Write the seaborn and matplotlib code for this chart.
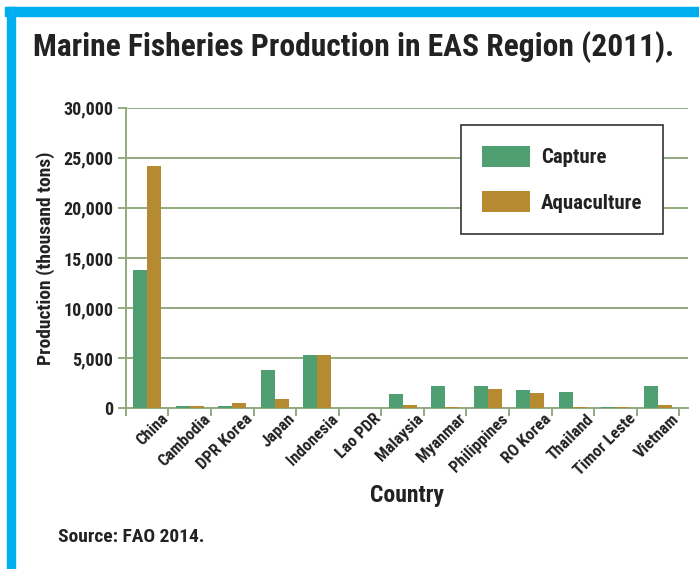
import matplotlib
matplotlib.use("Agg")
import matplotlib.pyplot as plt
import matplotlib.transforms as mtrans
import seaborn as sns
import pandas as pd
from matplotlib import font_manager as fm
from matplotlib.patches import Rectangle, Patch
from matplotlib.ticker import FuncFormatter, FixedLocator

countries = ["China", "Cambodia", "DPR Korea", "Japan", "Indonesia", "Lao PDR",
             "Malaysia", "Myanmar", "Philippines", "RO Korea", "Thailand",
             "Timor Leste", "Vietnam"]
capture = [13850, 200, 200, 3850, 5350, 0, 1380, 2250, 2250, 1820, 1650, 130, 2250]
aquaculture = [24150, 200, 500, 900, 5350, 0, 330, 150, 1950, 1520, 150, 130, 330]
series = ["Capture", "Aquaculture"]
colors = ["#4f9f73", "#b58a30"]
yticks = [0, 5000, 10000, 15000, 20000, 25000, 30000]

sns.set_theme(style="white")

available = {f.name for f in fm.fontManager.ttflist}
prefs = ["Nimbus Sans Narrow", "Liberation Sans Narrow", "Arial Narrow",
         "Roboto Condensed", "Archivo Narrow", "PT Sans Narrow",
         "Pragati Narrow", "Asap Condensed", "Barlow Semi Condensed"]
chosen = next((p for p in prefs if p in available), "DejaVu Sans")
FONT = [chosen, "DejaVu Sans"]
plt.rcParams["font.family"] = FONT
plt.rcParams["font.weight"] = "bold"

df = pd.DataFrame({
    "Country": countries * 2,
    "Production": capture + aquaculture,
    "Type": [series[0]] * len(countries) + [series[1]] * len(countries),
})

fig = plt.figure(figsize=(6.99, 5.69), dpi=100)
ax = fig.add_axes([0.180, 0.2824, 0.804, 0.5283])

sns.barplot(data=df, x="Country", y="Production", hue="Type", order=countries,
            hue_order=series, palette=colors, saturation=1, width=0.66,
            linewidth=0, ax=ax, legend=False, errorbar=None)

grid_c = "#93a97e"
ax.set_ylim(0, 30000)
ax.set_xlim(-0.5, 12.7)
ax.yaxis.set_major_locator(FixedLocator(yticks))
ax.yaxis.set_major_formatter(FuncFormatter(lambda v, p: f"{int(v):,}"))
ax.grid(axis="y", color=grid_c, linewidth=1.4)
ax.set_axisbelow(True)
for s in ["top", "right"]:
    ax.spines[s].set_visible(False)
for s in ["left", "bottom"]:
    ax.spines[s].set_color(grid_c)
    ax.spines[s].set_linewidth(1.4)
    ax.spines[s].set_zorder(0.5)

ax.tick_params(axis="y", which="major", length=6, width=1.4, color=grid_c,
               left=True, labelsize=13, pad=3, labelcolor="#222222")
ax.set_xticks(range(len(countries)))
ax.set_xticks([i - 0.5 for i in range(len(countries) + 1)], minor=True)
ax.tick_params(axis="x", which="major", length=0, labelsize=12, pad=2,
               labelcolor="#222222")
ax.tick_params(axis="x", which="minor", length=6, width=1.4, color=grid_c,
               bottom=True)
ax.set_xticklabels(countries, rotation=45, ha="right", rotation_mode="anchor",
                   fontweight="bold")
shift = mtrans.ScaledTranslation(13 / 100, 0, fig.dpi_scale_trans)
for lab in ax.get_xticklabels():
    lab.set_transform(lab.get_transform() + shift)
for lab in ax.get_yticklabels():
    lab.set_fontweight("bold")

ax.set_xlabel("Country", fontsize=17, fontweight="bold", color="#222222", labelpad=4)
ax.set_ylabel("Production (thousand tons)", fontsize=14, fontweight="bold",
              color="#222222", labelpad=6)

handles = [Patch(facecolor=c, edgecolor="none") for c in colors]
leg = ax.legend(handles, series, loc="upper left", bbox_to_anchor=(0.596, 0.942),
                frameon=True, fancybox=False, framealpha=1, edgecolor="#333333",
                prop={"family": FONT, "weight": "bold", "size": 15},
                handlelength=2.3, handleheight=1.15, handletextpad=0.55,
                labelspacing=1.15, borderpad=1.0, borderaxespad=0)
leg.get_frame().set_linewidth(1.2)
for t in leg.get_texts():
    t.set_color("#222222")

title = fig.text(33 / 699, 1 - 47 / 569, "Marine Fisheries Production in EAS Region (2011).",
                 fontsize=27, fontweight="bold", color="#222222", va="center", ha="left")
renderer = fig.canvas.get_renderer()
w = title.get_window_extent(renderer).width
target = 642
title.set_fontsize(27 * target / w)

fig.text(58 / 699, 1 - 537 / 569, "Source: FAO 2014.", fontsize=14, fontweight="bold",
         color="#222222", va="center", ha="left")

blue = "#00aeef"
fig.patches.append(Rectangle((5 / 699, 1 - 16 / 569), 1, 9 / 569,
                             transform=fig.transFigure, color=blue, zorder=5))
fig.patches.append(Rectangle((7 / 699, 0), 8 / 699, 1 - 7 / 569,
                             transform=fig.transFigure, color=blue, zorder=5))

fig.savefig("out.png", dpi=100)
